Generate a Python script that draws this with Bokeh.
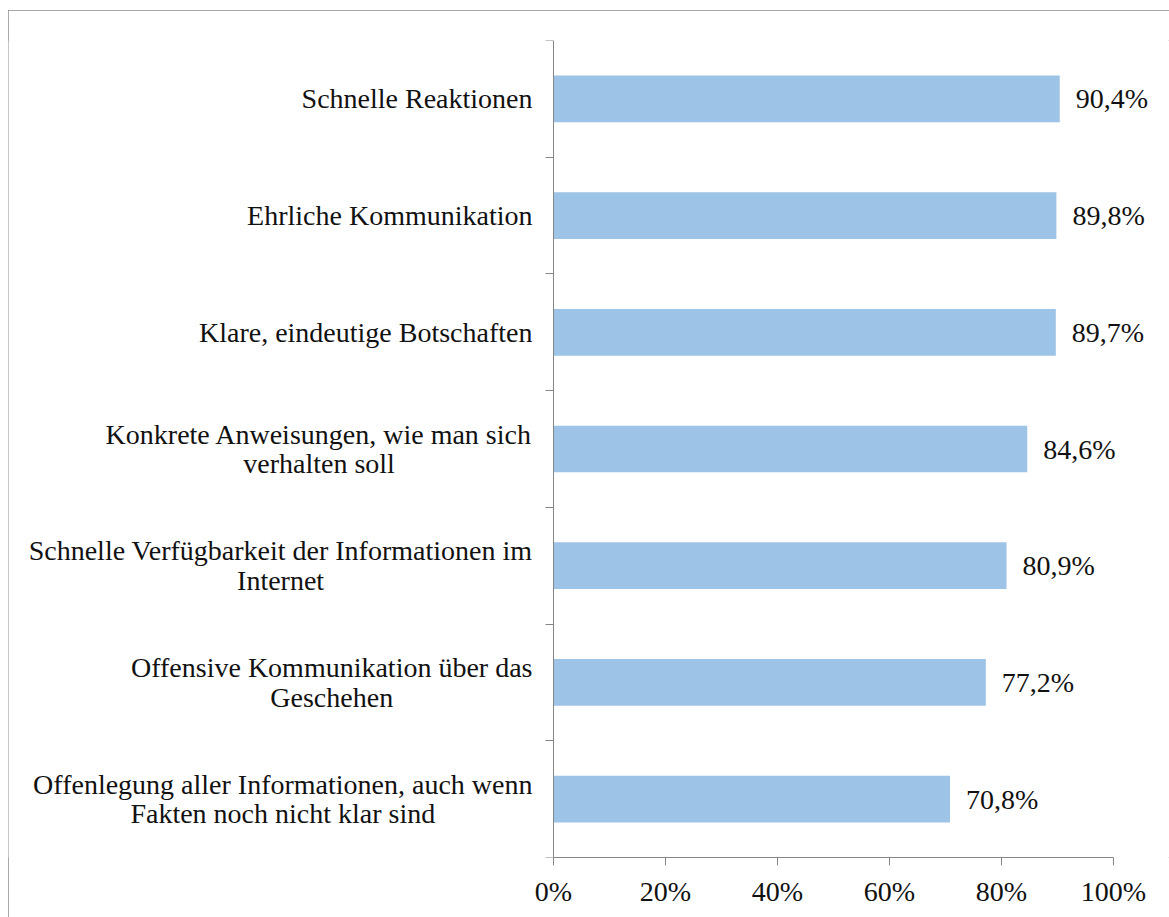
from bokeh.plotting import figure
from bokeh.models import ColumnDataSource, Range1d, FixedTicker
from bokeh.core.properties import value
from bokeh.embed import file_html
from bokeh.resources import INLINE

categories = [
    "Schnelle Reaktionen",
    "Ehrliche Kommunikation",
    "Klare, eindeutige Botschaften",
    "Konkrete Anweisungen, wie man sich\nverhalten soll",
    "Schnelle Verfügbarkeit der Informationen im\nInternet",
    "Offensive Kommunikation über das\nGeschehen",
    "Offenlegung aller Informationen, auch wenn\nFakten noch nicht klar sind",
]
values = [90.4, 89.8, 89.7, 84.6, 80.9, 77.2, 70.8]
value_labels = ["90,4%", "89,8%", "89,7%", "84,6%", "80,9%", "77,2%", "70,8%"]
x_ticks = [0, 20, 40, 60, 80, 100]
x_tick_labels = ["0%", "20%", "40%", "60%", "80%", "100%"]

n = len(categories)
ypos = [n - i - 0.5 for i in range(n)]

src = ColumnDataSource(dict(y=ypos, v=values, cat=categories, lab=value_labels,
                            zero=[0] * n))

# layout (page pixels)
FIG_X, FIG_Y = 8, 10
W, H = 1161, 907
X0_PX, X100_PX = 553, 1113
frame_left = FIG_X
frame_right = FIG_X + W
pxu = (X100_PX - X0_PX) / 100.0
x_start = -(X0_PX - frame_left) / pxu
x_end = 100 + (frame_right - X100_PX) / pxu

FONT = "Liberation Serif"
FS = "28px"
TXT = "#111111"
p = figure(width=W, height=H, output_backend="svg", toolbar_location=None,
           x_range=Range1d(x_start, x_end), y_range=Range1d(0, n),
           min_border_left=0, min_border_right=0,
           min_border_top=30, min_border_bottom=60)
p.styles = {"margin-left": f"{FIG_X}px", "margin-top": f"{FIG_Y}px",
            "outline": "1px solid #8c8c8c", "outline-offset": "-1px"}
p.outline_line_color = None
p.grid.visible = False
p.background_fill_color = "white"
p.border_fill_color = "white"

p.hbar(y="y", left="zero", right="v", height=0.4, source=src,
       fill_color="#9DC3E6", line_color=None)

p.text(x="v", y="y", text="lab", source=src, x_offset=16,
       text_align="left", text_baseline="middle",
       text_font=value(FONT), text_font_size=FS, text_color=TXT)

p.text(x="zero", y="y", text="cat", source=src, x_offset=-21,
       anchor="center_right", text_align="center", text_baseline="middle",
       text_line_height=0.95,
       text_font=value(FONT), text_font_size=FS, text_color=TXT)

xa = p.xaxis[0]
xa.ticker = FixedTicker(ticks=x_ticks)
xa.bounds = (x_ticks[0], x_ticks[-1])
xa.major_label_overrides = {t: l for t, l in zip(x_ticks, x_tick_labels)}
xa.minor_tick_line_color = None
xa.major_tick_in = 0
xa.major_tick_out = 8
xa.major_label_standoff = 10
xa.axis_line_color = "#868686"
xa.major_tick_line_color = "#868686"
xa.major_label_text_font = FONT
xa.major_label_text_font_size = FS
xa.major_label_text_color = TXT

ya = p.yaxis[0]
ya.fixed_location = 0
ya.ticker = FixedTicker(ticks=list(range(n + 1)))
ya.major_label_text_font_size = "0px"
ya.major_label_text_color = None
ya.minor_tick_line_color = None
ya.major_tick_in = 0
ya.major_tick_out = 8
ya.axis_line_color = "#868686"
ya.major_tick_line_color = "#868686"

open("out.html", "w").write(file_html(p, INLINE))
